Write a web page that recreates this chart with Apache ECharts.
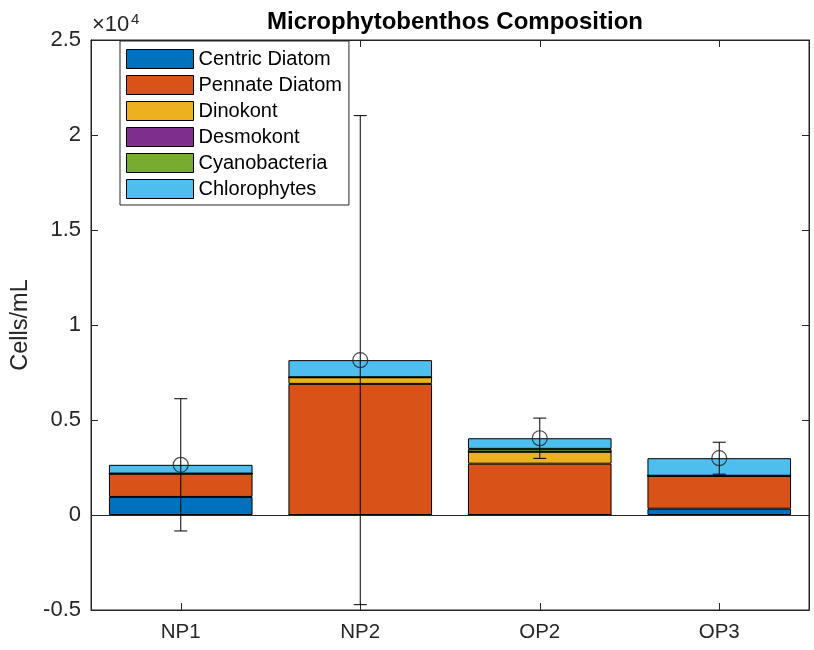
<!DOCTYPE html>
<html>
<head>
<meta charset="utf-8">
<script src="https://cdn.jsdelivr.net/npm/echarts@6/dist/echarts.min.js"></script>
<style>html,body{margin:0;padding:0;background:#fff;}#chart{width:814px;height:650px;}</style>
</head>
<body>
<div id="chart"></div>
<script>
const categories = ['NP1', 'NP2', 'OP2', 'OP3'];
const centricDiatom = [950, 0, 0, 330];
const pennateDiatom = [1230, 6900, 2700, 1735];
const dinokont = [0, 350, 630, 0];
const desmokont = [0, 0, 0, 0];
const cyanobacteria = [0, 0, 150, 0];
const chlorophytes = [460, 900, 560, 925];
const means = [2640, 8150, 4040, 2990];
const errors = [3480, 12870, 1060, 840];
const yTicks = [-5000, 0, 5000, 10000, 15000, 20000, 25000];

const FONT = "'Liberation Sans', Arial, Helvetica, sans-serif";
const AX = '#262626';
const names = ['Centric Diatom', 'Pennate Diatom', 'Dinokont', 'Desmokont', 'Cyanobacteria', 'Chlorophytes'];
const colors = ['#0072BD', '#D95319', '#EDB120', '#7E2F8E', '#77AC30', '#4DBEEE'];
const values = [centricDiatom, pennateDiatom, dinokont, desmokont, cyanobacteria, chlorophytes];

const chart = echarts.init(document.getElementById('chart'), null, {renderer: 'canvas'});

const barSeries = names.map((n, i) => ({
  name: n, type: 'bar', stack: 'total', barWidth: '80%',
  data: values[i],
  itemStyle: {color: colors[i], borderColor: '#000', borderWidth: 1},
  emphasis: {disabled: true},
  markLine: i === 0 ? {
    silent: true, symbol: 'none', label: {show: false},
    lineStyle: {color: AX, width: 1, type: 'solid'},
    data: [{yAxis: 0}]
  } : undefined
}));

const errData = categories.map((c, i) => [i, means[i], errors[i]]);

const option = {
  animation: false,
  backgroundColor: '#fff',
  title: {
    text: 'Microphytobenthos Composition', left: 450, top: 5, textAlign: 'center',
    textStyle: {fontFamily: FONT, fontWeight: 'bold', fontSize: 24, color: '#000'}
  },
  grid: {left: 91, right: 5, top: 40, bottom: 40, show: true, borderColor: AX, borderWidth: 1, backgroundColor: 'transparent'},
  legend: {
    orient: 'vertical', left: 120, top: 41,
    data: names,
    backgroundColor: '#fff', borderColor: AX, borderWidth: 1,
    padding: [8, 7, 6, 6],
    itemWidth: 67, itemHeight: 19, itemGap: 6,
    icon: 'rect',
    itemStyle: {borderColor: '#000', borderWidth: 1},
    textStyle: {fontFamily: FONT, fontSize: 20, color: '#000', lineHeight: 17},
    selectedMode: false
  },
  xAxis: [{
    type: 'category', data: categories, position: 'bottom',
    axisLine: {show: true, onZero: false, lineStyle: {color: AX}},
    axisTick: {show: true, inside: true, length: 7, alignWithLabel: true, lineStyle: {color: AX}},
    axisLabel: {fontFamily: FONT, fontSize: 20.5, color: AX, margin: 12},
    splitLine: {show: false}
  }, {
    type: 'category', data: categories, position: 'top',
    axisLine: {show: true, onZero: false, lineStyle: {color: AX}},
    axisTick: {show: true, inside: true, length: 7, alignWithLabel: true, lineStyle: {color: AX}},
    axisLabel: {show: false}, splitLine: {show: false}
  }],
  yAxis: [{
    type: 'value', min: -5000, max: 25000, interval: 5000, position: 'left',
    name: 'Cells/mL', nameLocation: 'middle', nameGap: 54, nameRotate: 90,
    nameTextStyle: {fontFamily: FONT, fontSize: 23.5, color: AX},
    axisLine: {show: true, lineStyle: {color: AX}},
    axisTick: {show: true, inside: true, length: 7, lineStyle: {color: AX}},
    axisLabel: {fontFamily: FONT, fontSize: 22, color: AX, margin: 10,
      formatter: v => yTicks.includes(v) ? String(v / 10000) : ''},
    splitLine: {show: false}
  }, {
    type: 'value', min: -5000, max: 25000, interval: 5000, position: 'right',
    axisLine: {show: true, lineStyle: {color: AX}},
    axisTick: {show: true, inside: true, length: 7, lineStyle: {color: AX}},
    axisLabel: {show: false}, splitLine: {show: false}
  }],
  graphic: [{
    type: 'text', left: 92, top: 14,
    style: {text: '×10', fontFamily: FONT, fontSize: 22, fill: AX}
  }, {
    type: 'text', left: 131, top: 12,
    style: {text: '4', fontFamily: FONT, fontSize: 15, fill: AX}
  }],
  series: barSeries.concat([{
    type: 'custom', name: 'err', data: errData, z: 5,
    renderItem: function (params, api) {
      const x = api.value(0), m = api.value(1), e = api.value(2);
      const top = api.coord([x, m + e]);
      const bot = api.coord([x, m - e]);
      const hw = 6.5;
      const st = {stroke: '#000', lineWidth: 1};
      return {type: 'group', children: [
        {type: 'line', shape: {x1: top[0], y1: top[1], x2: bot[0], y2: bot[1]}, style: st},
        {type: 'line', shape: {x1: top[0] - hw, y1: top[1], x2: top[0] + hw, y2: top[1]}, style: st},
        {type: 'line', shape: {x1: bot[0] - hw, y1: bot[1], x2: bot[0] + hw, y2: bot[1]}, style: st}
      ]};
    },
    silent: true
  }, {
    type: 'scatter', name: 'mean', data: means, z: 6,
    symbol: 'circle', symbolSize: 15,
    itemStyle: {color: 'rgba(0,0,0,0)', borderColor: '#222', borderWidth: 1.2},
    silent: true
  }])
};
chart.setOption(option);
</script>
</body>
</html>
